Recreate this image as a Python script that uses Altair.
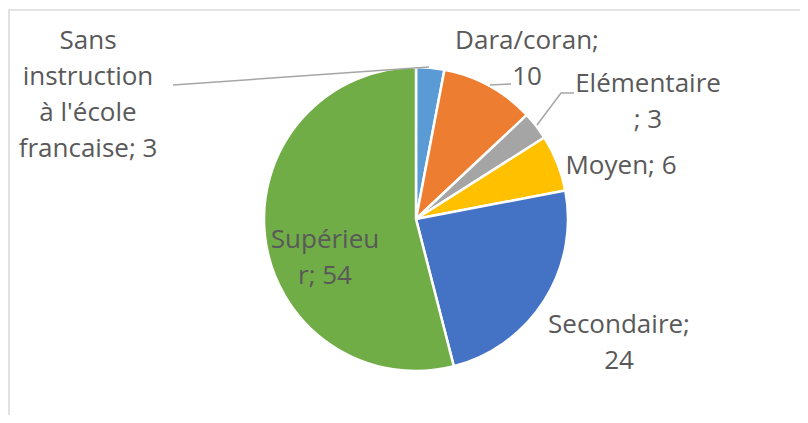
import altair as alt
import pandas as pd

# ---- data ----
categories = ["Sans instruction à l'école francaise", "Dara/coran", "Elémentaire",
              "Moyen", "Secondaire", "Supérieur"]
values = [3, 10, 3, 6, 24, 54]
colors = ["#5B9BD5", "#ED7D31", "#A5A5A5", "#FFC000", "#4472C4", "#70AD47"]
label_texts = ["Sans\ninstruction\nà l'école\nfrancaise; 3", "Dara/coran;\n10",
               "Elémentaire\n; 3", "Moyen; 6", "Secondaire;\n24", "Supérieu\nr; 54"]

# ---- layout (pixel positions inside the view; y = first text line) ----
W, H = 792, 407
CX, CY, R = 408, 211, 152
label_x = [80, 519, 640, 613, 611, 317]
label_y = [33, 33, 76, 158, 317, 232]
leader_pts = [  # (series, order, x, y)
    ("Sans", 0, 165, 77), ("Sans", 1, 421, 59),
    ("Dara", 0, 482, 77), ("Dara", 1, 503, 76),
    ("Elem", 0, 529, 117), ("Elem", 1, 553, 85), ("Elem", 2, 566, 85),
]

pie_df = pd.DataFrame({"cat": categories, "val": values, "idx": list(range(len(values)))})
lab_df = pd.DataFrame({"txt": label_texts, "lx": label_x, "ly": label_y})
lead_df = pd.DataFrame(leader_pts, columns=["s", "o", "lx", "ly"])

xs = alt.Scale(domain=[0, W], range=[0, W])
ys = alt.Scale(domain=[0, H], range=[0, H])

border = alt.Chart(pd.DataFrame({"a": [0]})).mark_rect(
    fill=None, stroke="#D9D9D9", strokeWidth=1.5
).encode(x=alt.value(1), y=alt.value(2), x2=alt.value(830), y2=alt.value(440))

pie = alt.Chart(pie_df).mark_arc(outerRadius=R, stroke="white", strokeWidth=2.5).encode(
    theta=alt.Theta("val:Q", stack=True),
    order=alt.Order("idx:Q"),
    color=alt.Color("cat:N", scale=alt.Scale(domain=categories, range=colors), legend=None),
    x=alt.value(CX), y=alt.value(CY),
)

leaders = alt.Chart(lead_df).mark_line(color="#A6A6A6", strokeWidth=1.5).encode(
    x=alt.X("lx:Q", scale=xs, axis=None),
    y=alt.Y("ly:Q", scale=ys, axis=None),
    detail="s:N",
    order="o:Q",
)

labels = alt.Chart(lab_df).mark_text(
    font="Open Sans", fontSize=26, color="#595959", lineBreak="\n", lineHeight=36,
    align="center", baseline="middle"
).encode(
    x=alt.X("lx:Q", scale=xs, axis=None),
    y=alt.Y("ly:Q", scale=ys, axis=None),
    text="txt:N",
)

chart = alt.layer(border, pie, leaders, labels).properties(
    width=W, height=H, padding=0, autosize=alt.AutoSizeParams(type="none")
).configure_view(stroke=None)

chart.save("out.html", embed_options={"renderer": "svg", "actions": False})
